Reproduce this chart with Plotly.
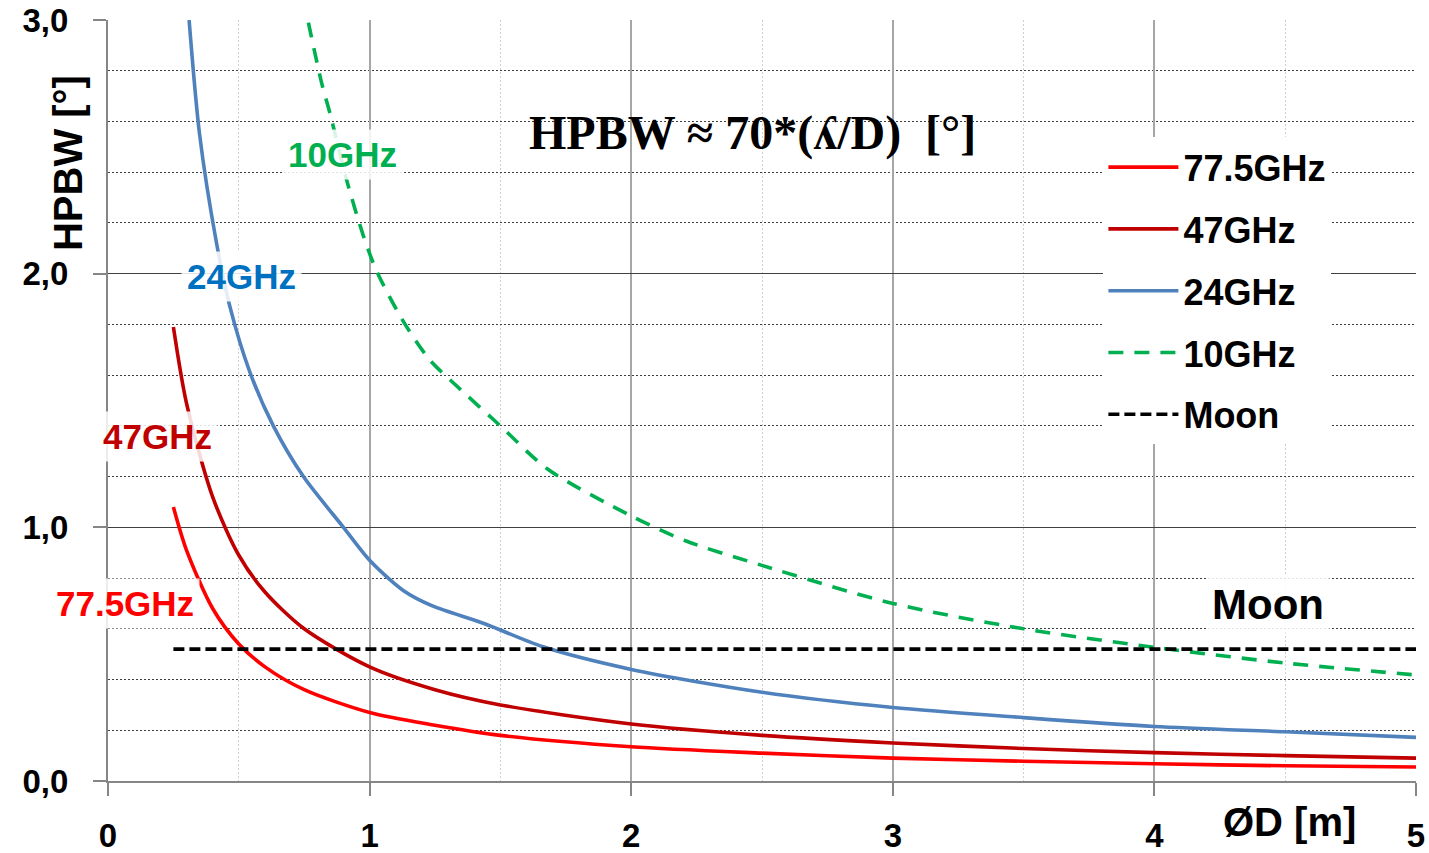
import plotly.graph_objects as go

# ---- data ----
D_775 = [0.25, 0.3, 0.4, 0.5, 0.6, 0.75, 1.0, 1.25, 1.5, 2.0, 2.5, 3.0, 3.5, 4.0, 4.5, 5.0]
HPBW_775 = [1.08, 0.91, 0.68, 0.54, 0.45, 0.36, 0.27, 0.22, 0.18, 0.135, 0.11, 0.09, 0.078, 0.068, 0.06, 0.055]

D_47 = [0.25, 0.3, 0.4, 0.5, 0.6, 0.75, 1.0, 1.25, 1.5, 2.0, 2.5, 3.0, 3.5, 4.0, 4.5, 5.0]
HPBW_47 = [1.79, 1.49, 1.12, 0.89, 0.745, 0.6, 0.45, 0.36, 0.30, 0.225, 0.18, 0.15, 0.128, 0.112, 0.10, 0.09]

D_24 = [0.31, 0.35, 0.415, 0.466, 0.543, 0.632, 0.747, 0.9, 1.0, 1.13, 1.24, 1.44, 1.66, 2.0, 2.5, 3.0, 3.5, 4.0, 4.5, 5.0]
HPBW_24 = [3.0, 2.55, 2.12, 1.87, 1.61, 1.40, 1.20, 1.0, 0.87, 0.75, 0.69, 0.62, 0.53, 0.44, 0.35, 0.29, 0.25, 0.215, 0.194, 0.172]

D_10 = [0.766, 0.817, 0.849, 0.912, 0.976, 1.027, 1.13, 1.23, 1.33, 1.5, 1.68, 2.0, 2.21, 2.5, 3.0, 3.5, 4.0, 4.5, 5.0]
HPBW_10 = [2.99, 2.75, 2.63, 2.37, 2.15, 2.01, 1.81, 1.66, 1.56, 1.40, 1.23, 1.045, 0.946, 0.85, 0.70, 0.60, 0.527, 0.465, 0.418]

D_moon = [0.25, 5.0]
HPBW_moon = [0.52, 0.52]

series_names = ["77.5GHz", "47GHz", "24GHz", "10GHz", "Moon"]
x_ticks = [0, 1, 2, 3, 4, 5]
y_ticks = [0.0, 1.0, 2.0, 3.0]

# ---- style ----
C_RED = "#FF0000"
C_DRED = "#C00000"
C_BLUE = "#4F81BD"
C_GREEN = "#00B050"
C_LBL_BLUE = "#0070C0"
NARROW = "Liberation Sans Narrow, Arial Narrow, Liberation Sans, Arial, sans-serif"
SANS = "Liberation Sans, Arial, sans-serif"

fig = go.Figure()

def add(x, y, name, color, dash="solid"):
    fig.add_trace(go.Scatter(
        x=x, y=y, name=name, mode="lines", legendgroup=name,
        line=dict(color=color, width=3.6, dash=dash, shape="spline", smoothing=0.8),
        hoverinfo="x+y+name"))

add(D_775, HPBW_775, series_names[0], C_RED)
add(D_47, HPBW_47, series_names[1], C_DRED)
add(D_24, HPBW_24, series_names[2], C_BLUE)
add(D_10, HPBW_10, series_names[3], C_GREEN, "15px,11px")
add(D_moon, HPBW_moon, series_names[4], "black", "11px,5px")

def label(text, x, y, color, family=NARROW, size=35):
    fig.add_annotation(x=x, y=y, xref="x", yref="y", text=text, showarrow=False,
                       font=dict(family=family, size=size, color=color, weight="bold"),
                       bgcolor="rgba(255,255,255,0.85)", borderpad=5,
                       xanchor="center", yanchor="middle")

label("10GHz", 0.898, 2.468, C_GREEN)
label("24GHz", 0.512, 1.99, C_LBL_BLUE)
label("47GHz", 0.191, 1.36, C_DRED)
label("77.5GHz", 0.065, 0.698, C_RED)
label("Moon", 4.434, 0.694, "black", family=SANS, size=42)

# formula title
fig.add_annotation(x=0.4924, y=0.852, xref="paper", yref="paper",
                   text="HPBW \u2248 70*(\u028E/D)\u00a0\u00a0[\u00b0]", showarrow=False,
                   font=dict(family="Liberation Serif, Times New Roman, serif", size=48,
                             color="black", weight="bold"),
                   xanchor="center", yanchor="middle")

# y-axis title (placed near the top, rotated)
fig.add_annotation(x=-0.0306, y=0.812, xref="paper", yref="paper",
                   text="HPBW [\u00b0]", textangle=-90, showarrow=False,
                   font=dict(family=SANS, size=40, color="black", weight="bold"),
                   xanchor="center", yanchor="middle")

# x-axis title
fig.add_annotation(x=0.903, y=-0.054, xref="paper", yref="paper",
                   text="\u00d8D [m]", showarrow=False,
                   font=dict(family=SANS, size=40, color="black", weight="bold"),
                   xanchor="center", yanchor="middle")

fig.update_layout(
    width=1429, height=853, autosize=False,
    margin=dict(l=108, r=13, t=20, b=72),
    paper_bgcolor="white", plot_bgcolor="white",
    separators=",.",
    showlegend=True,
    legend=dict(x=0.761, y=0.846, xanchor="left", yanchor="top",
                bgcolor="white", borderwidth=0,
                font=dict(family=NARROW, size=36, color="black", weight="bold"),
                itemwidth=70, tracegroupgap=12, traceorder="grouped"),
    xaxis=dict(range=[0, 5], tickvals=x_ticks, ticktext=[str(v) for v in x_ticks],
               automargin=False,
               showline=True, linecolor="#868686", linewidth=2,
               ticks="outside", ticklen=13, tickwidth=2, tickcolor="#868686",
               showgrid=True, gridcolor="#A6A6A6", gridwidth=1.5, zeroline=False,
               minor=dict(dtick=0.5, showgrid=True, gridcolor="#CFCFCF", griddash="2px,2px",
                          gridwidth=1, ticks=""),
               tickfont=dict(family=SANS, size=33, color="black", weight="bold"),
               ticklabelstandoff=11),
    yaxis=dict(range=[0, 3], tickvals=y_ticks, tickformat=".1f",
               automargin=False,
               showline=True, linecolor="#868686", linewidth=2,
               ticks="outside", ticklen=13, tickwidth=2, tickcolor="#868686",
               showgrid=True, gridcolor="#404040", gridwidth=1.3, zeroline=False,
               minor=dict(dtick=0.2, showgrid=True, gridcolor="#404040", griddash="2px,2px",
                          gridwidth=1, ticks=""),
               tickfont=dict(family=SANS, size=33, color="black", weight="bold"),
               ticklabelstandoff=18),
)

fig.write_html("out.html")
